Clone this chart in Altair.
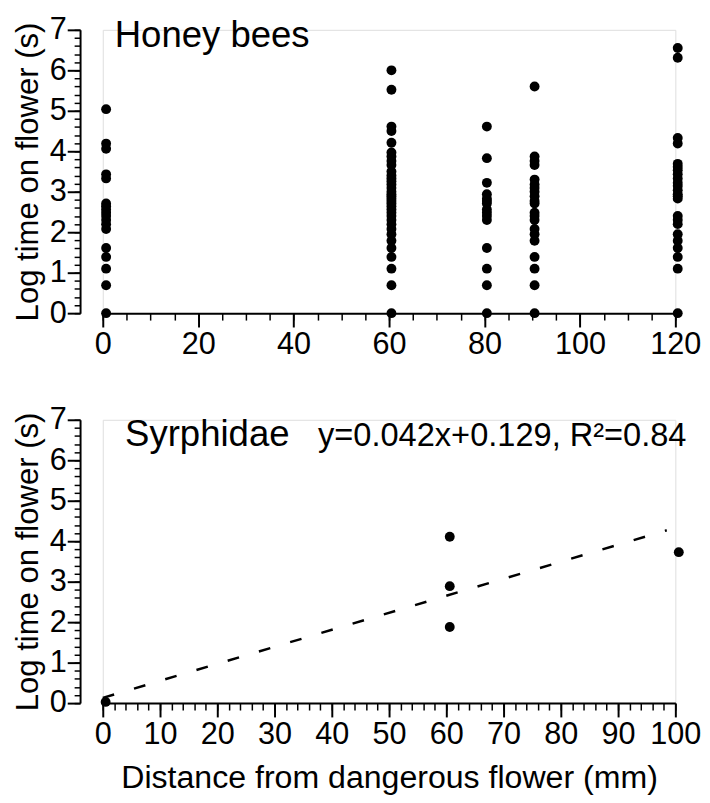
import altair as alt
import pandas as pd

FONT = "Liberation Sans"

# ---------------- Honey bees (top panel) ----------------
hb_y0 = [0, 0.69, 1.10, 1.39, 1.61, 2.08, 2.20, 2.30, 2.40, 2.48, 2.56, 2.64, 2.71,
         3.33, 3.43, 4.06, 4.19, 5.04]
hb_y60 = [0, 0.69, 1.10, 1.39, 1.61, 1.79, 1.95, 2.08, 2.20, 2.30, 2.40, 2.48, 2.56,
          2.64, 2.71, 2.77, 2.83, 2.89, 2.94, 3.00, 3.09, 3.18, 3.26, 3.33, 3.40, 3.50,
          3.66, 3.76, 3.87, 3.97, 4.21, 4.50, 4.61, 5.52, 6.00]
hb_y80 = [0, 0.69, 1.10, 1.61, 2.30, 2.40, 2.48, 2.56, 2.71, 2.77, 2.83, 2.94, 3.22,
          3.83, 4.61]
hb_y90 = [0, 0.69, 1.10, 1.39, 1.79, 1.95, 2.08, 2.30, 2.40, 2.48, 2.71, 2.77, 2.89,
          3.00, 3.09, 3.18, 3.30, 3.66, 3.76, 3.87, 5.60]
hb_y120 = [0, 1.10, 1.39, 1.61, 1.79, 1.95, 2.20, 2.30, 2.40, 2.83, 2.89, 2.94, 3.04,
           3.14, 3.22, 3.33, 3.43, 3.53, 3.61, 3.69, 4.19, 4.33, 6.31, 6.55]
hb_cols = [0.7, 60.5, 80.5, 90.5, 120.5]
hb_vals = [hb_y0, hb_y60, hb_y80, hb_y90, hb_y120]

# ---------------- Syrphidae (bottom panel) ----------------
sy_x = [0.5, 60.6, 60.6, 60.6, 100.6]
sy_y = [0.03, 4.11, 2.89, 1.88, 3.73]
fit_x = [0.0, 98.5]
fit_y = [0.13, 4.27]

# tick values
hb_major = [0, 20, 40, 60, 80, 100, 120]
hb_minor = list(range(0, 121, 5))
sy_major = list(range(0, 101, 10))
sy_minor = list(range(0, 101, 2))
y_major = [0, 1, 2, 3, 4, 5, 6, 7]
y_minor = [i / 5 for i in range(0, 36)]

hb_df = pd.DataFrame(
    [{"x": c, "y": v} for c, vals in zip(hb_cols, hb_vals) for v in vals]
)
sy_df = pd.DataFrame({"x": sy_x, "y": sy_y})
fit_df = pd.DataFrame({"x": fit_x, "y": fit_y})

W, H = 580, 287
YTITLE = "Log time on flower (s)"


def yaxis(major):
    if major:
        return alt.Axis(values=y_major, tickSize=13, labelFontSize=31, labelFont=FONT,
                        labelPadding=1, title=YTITLE, titleFontSize=31.5, titleFont=FONT,
                        titleFontWeight="normal", titlePadding=5, offset=23,
                        domainColor="black", domainWidth=2, tickColor="black",
                        tickWidth=2, labelColor="black", titleColor="black",
                        grid=False, orient="left", labelFlush=False)
    return alt.Axis(values=y_minor, tickSize=6, labels=False, title=None, offset=23,
                    domain=False, tickColor="black", tickWidth=1.5, grid=False,
                    orient="left")


def xaxis(major, vals, title=None):
    if major:
        kw = dict(values=vals, tickSize=14, labelFontSize=31, labelFont=FONT,
                  labelPadding=3, domainColor="black", domainWidth=2,
                  tickColor="black", tickWidth=2, labelColor="black", grid=False,
                  orient="bottom", labelFlush=False)
        if title:
            kw.update(title=title, titleFontSize=32.5, titleFont=FONT,
                      titleFontWeight="normal", titleColor="black", titlePadding=12)
        else:
            kw.update(title=None)
        return alt.Axis(**kw)
    return alt.Axis(values=vals, tickSize=7, labels=False, title=None, domain=False,
                    tickColor="black", tickWidth=1.5, grid=False, orient="bottom")


def panel(df, xdom, major, minor, xtitle, extra_layers):
    xs = alt.Scale(domain=xdom, nice=False, zero=False)
    ys = alt.Scale(domain=[0, 7], nice=False)
    pts = alt.Chart(df).mark_circle(size=100, color="black", opacity=1).encode(
        x=alt.X("x:Q", scale=xs, axis=xaxis(True, major, xtitle)),
        y=alt.Y("y:Q", scale=ys, axis=yaxis(True)),
    )
    minor_layer = alt.Chart(df).mark_circle(opacity=0).encode(
        x=alt.X("x:Q", scale=xs, axis=xaxis(False, minor)),
        y=alt.Y("y:Q", scale=ys, axis=yaxis(False)),
    )
    return alt.layer(pts, minor_layer, *extra_layers).resolve_axis(
        x="independent", y="independent"
    ).properties(width=W, height=H)


hb_label = pd.DataFrame({"x": [2.5], "y": [6.57], "t": ["Honey bees"]})
hb_text = alt.Chart(hb_label).mark_text(
    align="left", baseline="alphabetic", fontSize=37, font=FONT, color="black"
).encode(x=alt.X("x:Q", axis=None), y=alt.Y("y:Q", axis=None), text="t:N")

sy_label = pd.DataFrame({"x": [3.9, 37.6], "y": [6.36, 6.36],
                         "t": ["Syrphidae", "y=0.042x+0.129, R²=0.84"]})
sy_text1 = alt.Chart(sy_label.iloc[[0]]).mark_text(
    align="left", baseline="alphabetic", fontSize=37, font=FONT, color="black"
).encode(x=alt.X("x:Q", axis=None), y=alt.Y("y:Q", axis=None), text="t:N")
sy_text2 = alt.Chart(sy_label.iloc[[1]]).mark_text(
    align="left", baseline="alphabetic", fontSize=33, font=FONT, color="black"
).encode(x=alt.X("x:Q", axis=None), y=alt.Y("y:Q", axis=None), text="t:N")

fit_line = alt.Chart(fit_df).mark_line(
    color="black", strokeWidth=2.5, strokeDash=[12, 21]
).encode(x=alt.X("x:Q", axis=None), y=alt.Y("y:Q", axis=None))

top = panel(hb_df, [0, 120], hb_major, hb_minor, None, [hb_text])
bottom = panel(sy_df, [0, 100], sy_major, sy_minor,
               "Distance from dangerous flower (mm)", [fit_line, sy_text1, sy_text2])

chart = alt.vconcat(top, bottom, spacing=43).properties(
    padding={"left": 4, "top": 0, "right": 0, "bottom": 0}
).configure_view(stroke=None).configure(background="white")

chart.save("out.html", embed_options={"renderer": "svg", "actions": False})
